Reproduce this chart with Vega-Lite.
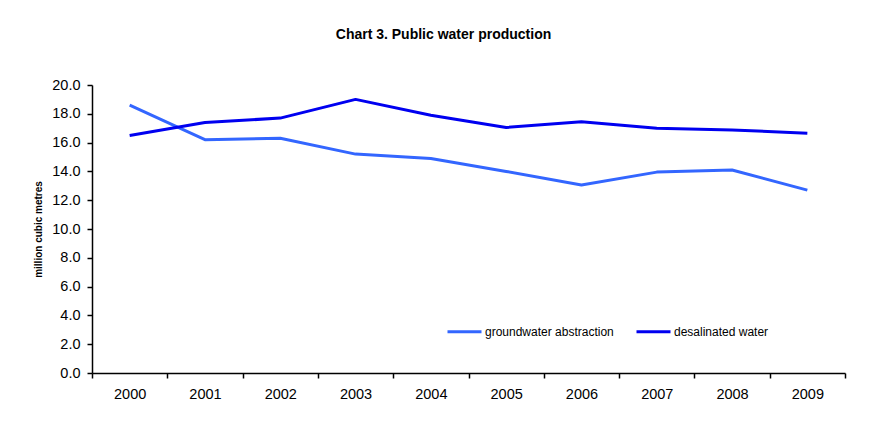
{
  "$schema": "https://vega.github.io/schema/vega-lite/v6.json",
  "width": 753,
  "height": 288,
  "autosize": {"type": "none"},
  "padding": {"left": 92, "top": 85, "right": 36, "bottom": 53},
  "background": "white",
  "title": {
    "text": "Chart 3. Public water production",
    "font": "Liberation Sans",
    "fontSize": 14,
    "fontWeight": "bold",
    "color": "black",
    "anchor": "middle",
    "frame": "group",
    "baseline": "alphabetic",
    "offset": 45,
    "dx": -25,
    "dy": 21
  },
  "data": {
    "values": [
      {"year": "2000", "series": "groundwater abstraction", "value": 18.6},
      {"year": "2001", "series": "groundwater abstraction", "value": 16.2},
      {"year": "2002", "series": "groundwater abstraction", "value": 16.3},
      {"year": "2003", "series": "groundwater abstraction", "value": 15.2},
      {"year": "2004", "series": "groundwater abstraction", "value": 14.9},
      {"year": "2005", "series": "groundwater abstraction", "value": 14.0},
      {"year": "2006", "series": "groundwater abstraction", "value": 13.05},
      {"year": "2007", "series": "groundwater abstraction", "value": 13.95},
      {"year": "2008", "series": "groundwater abstraction", "value": 14.1},
      {"year": "2009", "series": "groundwater abstraction", "value": 12.7},
      {"year": "2000", "series": "desalinated water", "value": 16.5},
      {"year": "2001", "series": "desalinated water", "value": 17.4},
      {"year": "2002", "series": "desalinated water", "value": 17.7},
      {"year": "2003", "series": "desalinated water", "value": 19.0},
      {"year": "2004", "series": "desalinated water", "value": 17.9},
      {"year": "2005", "series": "desalinated water", "value": 17.05},
      {"year": "2006", "series": "desalinated water", "value": 17.45},
      {"year": "2007", "series": "desalinated water", "value": 17.0},
      {"year": "2008", "series": "desalinated water", "value": 16.88},
      {"year": "2009", "series": "desalinated water", "value": 16.65}
    ]
  },
  "mark": {"type": "line", "strokeWidth": 3, "strokeCap": "butt", "strokeJoin": "round"},
  "encoding": {
    "x": {
      "field": "year",
      "type": "ordinal",
      "scale": {"type": "band", "paddingInner": 0, "paddingOuter": 0},
      "axis": {
        "title": null,
        "labelAngle": 0,
        "tickBand": "extent",
        "tickSize": 5,
        "labelPadding": 9,
        "labelFontSize": 14.5,
        "grid": false
      }
    },
    "y": {
      "field": "value",
      "type": "quantitative",
      "scale": {"domain": [0, 20], "nice": false},
      "axis": {
        "title": "million cubic metres",
        "values": [0, 2, 4, 6, 8, 10, 12, 14, 16, 18, 20],
        "format": ".1f",
        "tickSize": 5,
        "labelPadding": 7,
        "labelFontSize": 14.5,
        "titleFontSize": 10,
        "titleFontWeight": "bold",
        "titlePadding": 8,
        "grid": false
      }
    },
    "color": {
      "field": "series",
      "type": "nominal",
      "scale": {
        "domain": ["groundwater abstraction", "desalinated water"],
        "range": ["#3366FF", "#0000F0"]
      },
      "legend": {
        "title": null,
        "orient": "none",
        "direction": "horizontal",
        "legendX": 354,
        "legendY": 228,
        "symbolType": "stroke",
        "symbolSize": 1156,
        "symbolStrokeWidth": 3,
        "labelFontSize": 12,
        "labelOffset": 2,
        "columnPadding": 16
      }
    }
  },
  "config": {
    "font": "Liberation Sans",
    "view": {"stroke": null},
    "axis": {
      "domainColor": "black",
      "tickColor": "black",
      "labelColor": "black",
      "titleColor": "black",
      "labelFont": "Liberation Sans",
      "titleFont": "Liberation Sans",
      "domainWidth": 1.5,
      "tickWidth": 1.5
    },
    "legend": {"labelFont": "Liberation Sans", "labelColor": "black"}
  }
}
